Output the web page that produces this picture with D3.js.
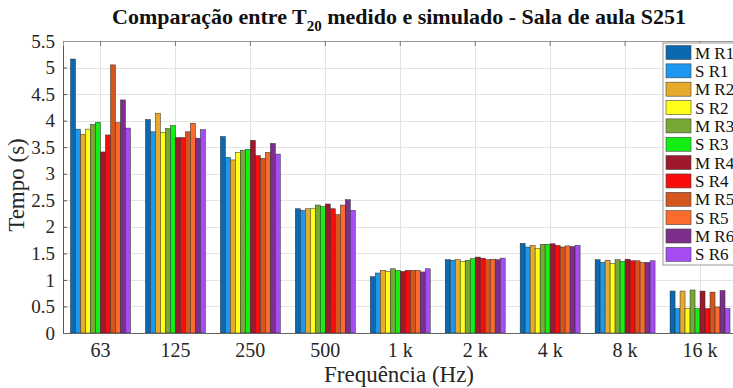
<!DOCTYPE html>
<html>
<head>
<meta charset="utf-8">
<script src="https://cdn.jsdelivr.net/npm/d3@7"></script>
<style>
  body { margin: 0; background: #fff; }
  svg { display: block; font-family: "Liberation Serif", "Times New Roman", serif; }
</style>
</head>
<body>
<svg id="chart" width="733" height="388"></svg>
<script>
// bandas de frequência
const categories = ["63", "125", "250", "500", "1 k", "2 k", "4 k", "8 k", "16 k"];
const series = ["M R1", "S R1", "M R2", "S R2", "M R3", "S R3", "M R4", "S R4", "M R5", "S R5", "M R6", "S R6"];
const colors = ["#0a69b0", "#1e98ee", "#e8aa2a", "#ffff1a", "#77a836", "#14ee14",
                "#a0182e", "#f80c0c", "#d5561c", "#fb6b2e", "#7d2f8c", "#a64cf5"];
const yTicks = [0, 0.5, 1, 1.5, 2, 2.5, 3, 3.5, 4, 4.5, 5, 5.5];

// T20 (s) por série, uma entrada por banda
const mR1 = [5.16, 4.02, 3.70, 2.34, 1.06, 1.38, 1.69, 1.38, 0.79];
const sR1 = [3.84, 3.79, 3.31, 2.31, 1.13, 1.37, 1.62, 1.33, 0.46];
const mR2 = [3.74, 4.14, 3.26, 2.34, 1.18, 1.38, 1.65, 1.37, 0.79];
const sR2 = [3.84, 3.78, 3.40, 2.34, 1.16, 1.35, 1.59, 1.31, 0.46];
const mR3 = [3.93, 3.85, 3.44, 2.41, 1.21, 1.37, 1.67, 1.38, 0.81];
const sR3 = [3.97, 3.91, 3.46, 2.38, 1.18, 1.40, 1.67, 1.35, 0.46];
const mR4 = [3.41, 3.68, 3.63, 2.43, 1.16, 1.43, 1.68, 1.39, 0.79];
const sR4 = [3.73, 3.68, 3.34, 2.34, 1.18, 1.41, 1.65, 1.36, 0.46];
const mR5 = [5.05, 3.79, 3.29, 2.23, 1.18, 1.38, 1.62, 1.36, 0.77];
const sR5 = [3.96, 3.95, 3.40, 2.41, 1.18, 1.39, 1.64, 1.33, 0.49];
const mR6 = [4.39, 3.67, 3.57, 2.51, 1.15, 1.38, 1.63, 1.33, 0.80];
const sR6 = [3.86, 3.83, 3.37, 2.31, 1.21, 1.41, 1.65, 1.36, 0.46];
const values = [mR1, sR1, mR2, sR2, mR3, sR3, mR4, sR4, mR5, sR5, mR6, sR6];

const svg = d3.select("#chart");
const marge = { top: 41, left: 63, bottom: 55 };
const plotRight = 737.5; // a figura original está cortada à direita
const plotBottom = 388 - marge.bottom;

const x0 = d3.scaleBand().domain(categories).range([marge.left, plotRight])
  .paddingInner(0.2).paddingOuter(0.1);
const x1 = d3.scaleBand().domain(series).range([0, x0.bandwidth()]).padding(0);
const y = d3.scaleLinear().domain([0, 5.5]).range([plotBottom, marge.top]);

// grade
const grid = svg.append("g").attr("stroke", "#e3e3e3").attr("stroke-width", 1);
grid.selectAll("line.h").data(yTicks).enter().append("line")
  .attr("x1", marge.left).attr("x2", plotRight)
  .attr("y1", d => Math.round(y(d)) + 0.5).attr("y2", d => Math.round(y(d)) + 0.5);
grid.selectAll("line.v").data(categories).enter().append("line")
  .attr("x1", d => Math.round(x0(d) + x0.bandwidth() / 2) + 0.5)
  .attr("x2", d => Math.round(x0(d) + x0.bandwidth() / 2) + 0.5)
  .attr("y1", marge.top).attr("y2", plotBottom);

// barras
const groups = svg.append("g").selectAll("g").data(categories).enter().append("g")
  .attr("transform", d => `translate(${x0(d)},0)`);
groups.selectAll("rect")
  .data((c, ci) => series.map((s, si) => ({ s, si, v: values[si][ci] })))
  .enter().append("rect")
  .attr("x", d => x1(d.s))
  .attr("y", d => y(d.v))
  .attr("width", x1.bandwidth())
  .attr("height", d => plotBottom - y(d.v))
  .attr("fill", d => colors[d.si])
  .attr("stroke", "#2a2a2a")
  .attr("stroke-width", 0.5);

// eixos
const yAxis = d3.axisLeft(y).tickValues(yTicks).tickSize(-4).tickPadding(8)
  .tickFormat(d3.format("~g"));
const gy = svg.append("g").attr("transform", `translate(${marge.left},0)`).call(yAxis);
gy.select(".domain").attr("stroke", "#555");
gy.selectAll(".tick line").attr("stroke", "#555");
gy.selectAll("text").attr("font-size", 19).attr("fill", "#262626")
  .attr("font-family", "Liberation Serif, serif");

const xAxis = d3.axisBottom(x0).tickSize(0).tickPadding(10);
const gx = svg.append("g").attr("transform", `translate(0,${plotBottom})`).call(xAxis);
gx.select(".domain").attr("stroke", "#666");
gx.selectAll("text").attr("font-size", 20).attr("fill", "#262626")
  .attr("font-family", "Liberation Serif, serif");

// topo da caixa e marcas
const xTop = d3.axisTop(x0).tickSize(-5).tickFormat("");
const gt = svg.append("g").attr("transform", `translate(0,${marge.top})`).call(xTop);
gt.select(".domain").attr("stroke", "#999");
gt.selectAll(".tick line").attr("stroke", "#777");

// títulos
const title = svg.append("text").attr("x", 399).attr("y", 24)
  .attr("text-anchor", "middle").attr("font-weight", "bold").attr("font-size", 22).attr("fill", "#111");
title.append("tspan").text("Comparação entre T");
title.append("tspan").attr("font-size", 15).attr("dy", 7).text("20");
title.append("tspan").attr("dy", -7).text(" medido e simulado - Sala de aula S251");

svg.append("text").attr("x", 399).attr("y", 382).attr("text-anchor", "middle")
  .attr("font-size", 23).attr("fill", "#262626").text("Frequência (Hz)");
svg.append("text").attr("transform", "translate(24,185) rotate(-90)").attr("text-anchor", "middle")
  .attr("font-size", 23).attr("fill", "#262626").text("Tempo (s)");

// legenda
const leg = svg.append("g").attr("transform", "translate(663,43)");
leg.append("rect").attr("width", 80).attr("height", 222)
  .attr("fill", "#fff").attr("stroke", "#999").attr("stroke-width", 1);
const item = leg.selectAll("g.item").data(series).enter().append("g")
  .attr("transform", (d, i) => `translate(3,${2.5 + i * 18.35})`);
item.append("rect").attr("width", 25).attr("height", 14)
  .attr("fill", (d, i) => colors[i]).attr("stroke", "#444").attr("stroke-width", 0.6);
item.append("text").attr("x", 29).attr("y", 13).attr("font-size", 17).attr("fill", "#111").text(d => d);
</script>
</body>
</html>
